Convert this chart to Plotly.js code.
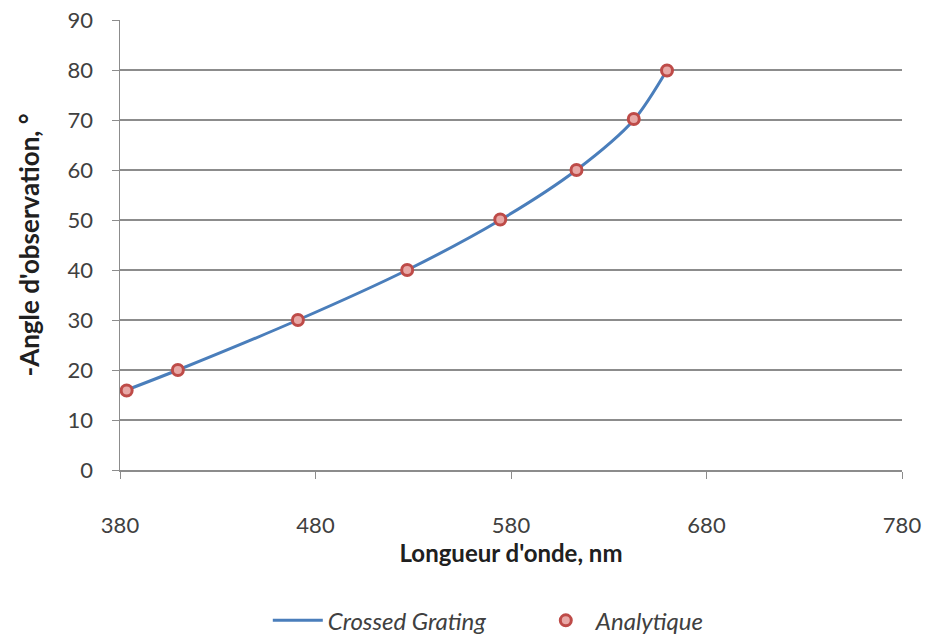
<!DOCTYPE html>
<html>
<head>
<meta charset="utf-8">
<script src="https://cdn.plot.ly/plotly-3.0.1.min.js"></script>
<style>html,body{margin:0;padding:0;background:#fff;}#chart{width:935px;height:635px;}</style>
</head>
<body>
<div id="chart"></div>
<script>
// Crossed Grating curve (wavelength nm, -angle deg)
const lineWavelength = [383.4, 409.6, 471.0, 526.9, 574.5, 613.5, 642.8, 659.8];
const lineAngle      = [16, 20, 30, 40, 50, 60, 70, 80];
// Analytique points
const ptWavelength = [383.4, 409.6, 471.0, 526.9, 574.5, 613.5, 642.8, 659.8];
const ptAngle      = [15.9, 20, 30, 40, 50.1, 60, 70.2, 79.9];
const xTicks = [380, 480, 580, 680, 780];
const yTicks = [0, 10, 20, 30, 40, 50, 60, 70, 80, 90];

const font = "Lato, 'Open Sans', sans-serif";
const traces = [
  {x: lineWavelength, y: lineAngle, name: 'Crossed Grating', type: 'scatter', mode: 'lines',
   line: {color: '#4A7EBB', width: 3, shape: 'spline', smoothing: 0.8}},
  {x: ptWavelength, y: ptAngle, name: 'Analytique', type: 'scatter', mode: 'markers',
   marker: {symbol: 'circle', size: 11, color: '#E8A8A6', line: {color: '#BE4B48', width: 3}}}
];
const layout = {
  width: 935, height: 635,
  margin: {l: 120, r: 33, t: 20, b: 165, autoexpand: false},
  paper_bgcolor: '#fff', plot_bgcolor: '#fff',
  font: {family: font, color: '#404040', size: 22},
  showlegend: true,
  legend: {orientation: 'h', x: 0.189, xanchor: 'left', y: -0.335, yanchor: 'middle',
           entrywidth: 203, entrywidthmode: 'pixels',
           font: {family: font, size: 24, color: '#404040', style: 'italic'}, itemwidth: 50},
  xaxis: {range: [380, 780], tickvals: xTicks, ticktext: xTicks.map(String), automargin: false,
          showgrid: false, zeroline: false, showline: true, linecolor: '#8c8c8c', linewidth: 1.5,
          ticks: 'outside', ticklen: 7, tickcolor: '#8c8c8c', ticklabelstandoff: 28,
          tickfont: {family: font, size: 22, color: '#404040'},
          title: {text: "<b>Longueur d'onde, nm</b>", font: {family: font, size: 24, color: '#202020'}, standoff: 8}},
  yaxis: {range: [0, 90], tickvals: yTicks, ticktext: yTicks.map(String), automargin: false,
          showgrid: true, gridcolor: '#8c8c8c', gridwidth: 1.2, zeroline: false,
          showline: true, linecolor: '#8c8c8c', linewidth: 1.5,
          ticks: 'outside', ticklen: 7, tickcolor: '#8c8c8c', ticklabelstandoff: 14,
          tickfont: {family: font, size: 22, color: '#404040'},
          title: {text: "<b>-Angle d'observation, °</b>", font: {family: font, size: 26, color: '#202020'}, standoff: 20}}
};
Plotly.newPlot('chart', traces, layout, {displayModeBar: false, staticPlot: true});
</script>
</body>
</html>
